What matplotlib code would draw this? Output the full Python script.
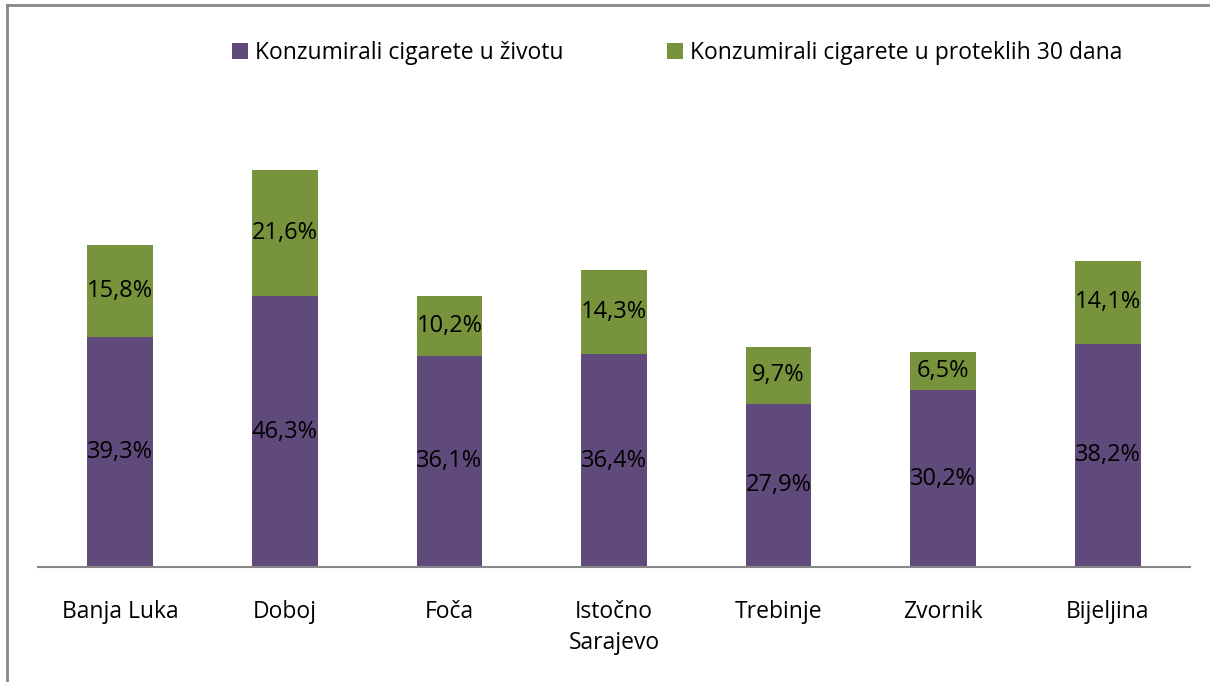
import matplotlib
matplotlib.use("Agg")
import matplotlib.pyplot as plt
from matplotlib.lines import Line2D
from matplotlib.patches import Patch
import numpy as np

categories = ["Banja Luka", "Doboj", "Foča", "Istočno\nSarajevo", "Trebinje", "Zvornik", "Bijeljina"]
life = [39.3, 46.3, 36.1, 36.4, 27.9, 30.2, 38.2]
last30 = [15.8, 21.6, 10.2, 14.3, 9.7, 6.5, 14.1]
series_names = ["Konzumirali cigarete u životu", "Konzumirali cigarete u proteklih 30 dana"]

purple = "#604A7B"
green = "#77933C"
plt.rcParams['font.family'] = ['Open Sans', 'DejaVu Sans']
FS = 16.5

fig = plt.figure(figsize=(12.1, 6.82), dpi=100)
W, H = 1210, 682
ax = fig.add_axes([38 / W, 1 - 567 / H, (1190 - 38) / W, (567 - 99) / H])

x = np.arange(len(categories))
bw = 0.40
ax.bar(x, life, bw, color=purple, label=series_names[0])
ax.bar(x, last30, bw, bottom=life, color=green, label=series_names[1])

for i in range(len(categories)):
    ax.text(x[i], life[i] / 2, f"{life[i]:.1f}%".replace(".", ","), ha="center", va="center", fontsize=17, color="black")
    ax.text(x[i], life[i] + last30[i] / 2, f"{last30[i]:.1f}%".replace(".", ","), ha="center", va="center", fontsize=17, color="black")

ax.set_xlim(-0.5, len(categories) - 0.5)
ax.set_ylim(0, 80)
ax.set_xticks(x)
ax.set_xticklabels(categories, fontsize=FS, linespacing=1.35, va="top")
ax.tick_params(axis="x", length=0, pad=24)
ax.set_yticks([])
for s in ["top", "right", "left"]:
    ax.spines[s].set_visible(False)
ax.spines["bottom"].set_color("#878787")
ax.spines["bottom"].set_linewidth(1.5)

handles = [Patch(facecolor=purple), Patch(facecolor=green)]
fig.legend(handles, series_names, loc="center", bbox_to_anchor=(677 / W, 1 - 53 / H), ncol=2,
           frameon=False, fontsize=FS, handlelength=0.7, handleheight=0.7, handletextpad=0.3,
           columnspacing=4.5)

# outer border (top and left visible)
fig.add_artist(Line2D([7 / W, 7 / W], [0, 1 - 5 / H], color="#878787", lw=2, transform=fig.transFigure))
fig.add_artist(Line2D([7 / W, 1], [1 - 5 / H, 1 - 5 / H], color="#878787", lw=2, transform=fig.transFigure))

fig.savefig("out.png", dpi=100)
